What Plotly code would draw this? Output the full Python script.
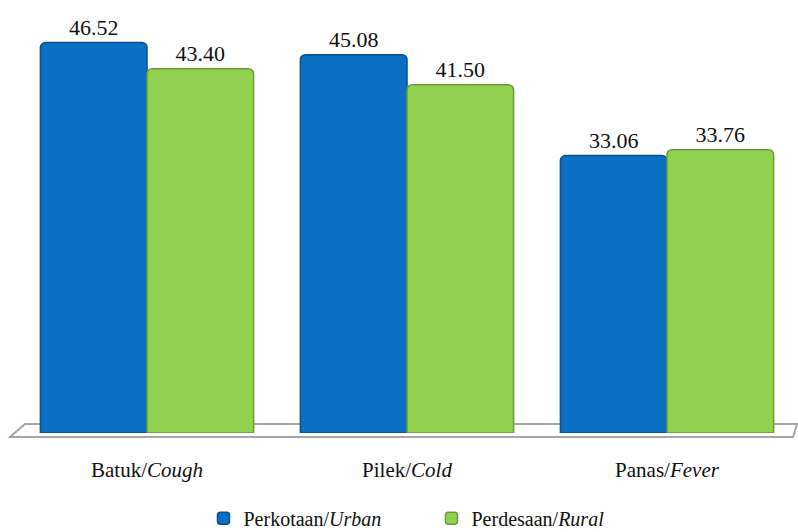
import plotly.graph_objects as go

# Symptom categories and prevalence (%) by residence type
categories = ["Batuk/<i>Cough</i>", "Pilek/<i>Cold</i>", "Panas/<i>Fever</i>"]
urban = [46.52, 45.08, 33.06]
rural = [43.40, 41.50, 33.76]
series_names = ["Perkotaan/<i>Urban</i>", "Perdesaan/<i>Rural</i>"]

serif = "Liberation Serif"

fig = go.Figure()
fig.add_trace(go.Bar(
    x=list(range(len(categories))), y=urban, name=series_names[0],
    marker=dict(color="#0b6fc4", line=dict(color="#0a4f8e", width=1.5), cornerradius=5),
    texttemplate="%{y:.2f}", textposition="outside",
    textfont=dict(family=serif, size=22, color="#111111"),
    cliponaxis=False,
))
fig.add_trace(go.Bar(
    x=list(range(len(categories))), y=rural, name=series_names[1],
    marker=dict(color="#92d050", line=dict(color="#6a9b3a", width=1.5), cornerradius=5),
    texttemplate="%{y:.2f}", textposition="outside",
    textfont=dict(family=serif, size=22, color="#111111"),
    cliponaxis=False,
))

# Floor plane under the bars
fig.add_shape(
    type="path", xref="paper", yref="paper",
    path="M -0.009,-0.0095 L 0.0102,0.0213 L 1.0,0.0213 L 0.995,-0.0095 Z",
    line=dict(color="#a6a6a6", width=2), fillcolor="white", layer="below",
)

fig.update_layout(
    width=798, height=532,
    margin=dict(l=17, r=1, t=10, b=99),
    plot_bgcolor="white", paper_bgcolor="white",
    barmode="group", bargap=0.18, bargroupgap=0,
    font=dict(family=serif, size=20, color="#111111"),
    showlegend=True,
    legend=dict(orientation="h", xref="container", yref="container",
                x=0.255, xanchor="left", y=0.026, yanchor="middle",
                font=dict(family=serif, size=20), itemwidth=30, traceorder="normal",
                entrywidth=183, entrywidthmode="pixels"),
    xaxis=dict(range=[-0.5, 2.5], tickvals=list(range(len(categories))), ticktext=categories,
               showgrid=False, zeroline=False, showline=False,
               ticks="outside", ticklen=18, tickcolor="rgba(0,0,0,0)",
               tickfont=dict(family=serif, size=21)),
    yaxis=dict(range=[0, 50.4], visible=False),
)

fig.write_html("out.html")
